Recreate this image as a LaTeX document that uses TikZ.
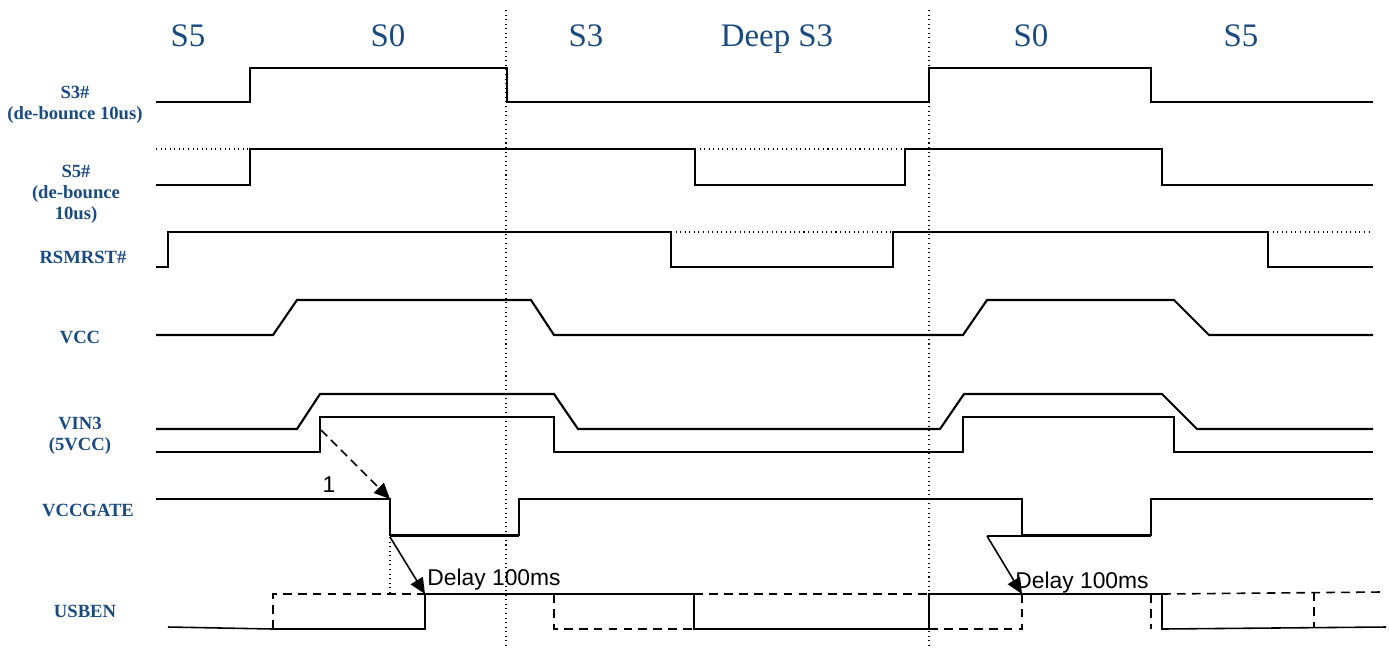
\documentclass[tikz,border=0pt]{standalone}
\usepackage{fontspec}
\setmainfont{Liberation Serif}
\newfontfamily\arialfont{Liberation Sans}
\usetikzlibrary{arrows.meta}
\definecolor{labelblue}{HTML}{1B4A7E}

\begin{document}
\begin{tikzpicture}[x=0.02cm, y=-0.02cm,
    wave/.style={line width=1.2pt},
    hold/.style={line width=0.6pt, dotted},
    alt/.style={line width=0.9pt, dash pattern=on 5pt off 3.5pt},
    sig/.style={font=\fontsize{10.6}{12}\selectfont\bfseries, text=labelblue, align=center, inner sep=0},
    state/.style={font=\fontsize{18.7}{22}\selectfont, text=labelblue, inner sep=0},
    note/.style={font=\arialfont\fontsize{13}{15}\selectfont, inner sep=0},
    tip/.style={-{Triangle[length=9pt,width=8pt]}, line width=0.9pt}]

    \useasboundingbox (0,0) rectangle (1389,654);

    % state boundaries
    \draw[hold] (506,10) -- (506,645);
    \draw[hold] (929,10) -- (929,645);

    \node[state, anchor=base] (s5 first) at (188,46) {S5};
    \node[state, anchor=base] (s0 first) at (388,46) {S0};
    \node[state, anchor=base] (s3) at (586,46) {S3};
    \node[state, anchor=base] (deep s3) at (777,46) {Deep S3};
    \node[state, anchor=base] (s0 second) at (1031,46) {S0};
    \node[state, anchor=base] (s5 second) at (1241,46) {S5};

    % signal names
    \node[sig] (lbl s3) at (75,105) {S3\#\\(de-bounce 10us)};
    \node[sig] (lbl s5) at (76,194) {S5\#\\(de-bounce\\10us)};
    \node[sig] (lbl rsmrst) at (83,257.5) {RSMRST\#};
    \node[sig] (lbl vcc) at (80,337.5) {VCC};
    \node[sig] (lbl vin) at (80,436) {VIN3\\(5VCC)};
    \node[sig] (lbl gate) at (88,510) {VCCGATE};
    \node[sig] (lbl usb) at (85,611) {USBEN};

    % S3#
    \draw[wave] (156,102) -- (250,102) -- (250,68) -- (507,68) -- (507,102) -- (929,102)
        -- (929,68) -- (1151,68) -- (1151,102) -- (1373,102);

    % S5#
    \draw[hold] (156,149) -- (250,149);
    \draw[hold] (695,149) -- (905,149);
    \draw[wave] (156,185) -- (250,185) -- (250,149) -- (695,149) -- (695,185) -- (905,185)
        -- (905,149) -- (1162,149) -- (1162,185) -- (1373,185);

    % RSMRST#
    \draw[hold] (671,232) -- (893,232);
    \draw[hold] (1268,232) -- (1373,232);
    \draw[wave] (156,267) -- (168,267) -- (168,232) -- (671,232) -- (671,267) -- (893,267)
        -- (893,232) -- (1268,232) -- (1268,267) -- (1373,267);

    % VCC
    \draw[wave] (156,335) -- (273,335) -- (297,300) -- (531,300) -- (554,335) -- (963,335)
        -- (987,300) -- (1174,300) -- (1209,335) -- (1373,335);

    % VIN3
    \draw[wave] (156,429) -- (297,429) -- (320,394) -- (554,394) -- (578,429) -- (940,429)
        -- (964,394) -- (1162,394) -- (1197,429) -- (1373,429);
    \draw[wave] (156,452) -- (320,452) -- (320,417) -- (554,417) -- (554,452) -- (963,452)
        -- (963,417) -- (1174,417) -- (1174,452) -- (1373,452);

    % VCCGATE
    \draw[wave] (156,499) -- (390,499) -- (390,535) -- (519,535) -- (519,499) -- (1022,499)
        -- (1022,535) -- (1151,535) -- (1151,499) -- (1373,499);
    \draw[line width=1.7pt] (390,535.5) -- (519,535.5);
    \draw[line width=1.7pt] (1022,535.5) -- (1151,535.5);
    \draw[line width=0.7pt] (987,536) -- (1022,536);
    \draw[hold] (390,537) -- (390,594);

    % USBEN
    \draw[line width=0.9pt] (168,627) -- (273,629) -- (425,629) -- (425,594) -- (694,594)
        -- (694,629) -- (929,629) -- (929,594) -- (1162,594) -- (1162,629) -- (1386,627);
    \draw[alt] (273,629) -- (273,594) -- (425,594);
    \draw[alt] (554,594) -- (554,629) -- (694,629);
    \draw[alt] (694,594) -- (929,594);
    \draw[alt] (929,629) -- (1022,629) -- (1022,594);
    \draw[alt] (1151,594) -- (1151,629);
    \draw[alt] (1162,594) -- (1380,592);
    \draw[alt] (1314,592) -- (1314,628);

    % delays
    \coordinate (vin on) at (321,430);
    \coordinate (gate off) at (390,499);
    \coordinate (gate low) at (390,537);
    \coordinate (usb on) at (425,594);
    \coordinate (gate low2) at (987,536);
    \coordinate (usb on2) at (1022,594);
    \draw[tip, dash pattern=on 5pt off 3pt] (vin on) -- (gate off);
    \draw[tip] (gate low) -- (usb on);
    \draw[tip] (gate low2) -- (usb on2);

    \node[note] (step one) at (329,485) {1};
    \node[note, anchor=base west] (delay first) at (427,585) {Delay 100ms};
    \node[note, anchor=base west] (delay second) at (1015,588) {Delay 100ms};

\end{tikzpicture}
\end{document}
